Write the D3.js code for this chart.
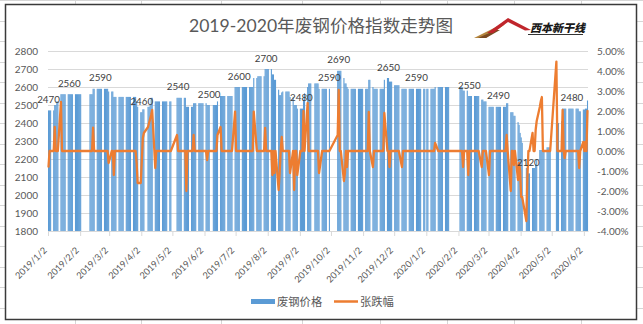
<!DOCTYPE html>
<html><head><meta charset="utf-8">
<script src="https://cdn.jsdelivr.net/npm/d3@7"></script>
<style>
body{margin:0;background:#fff}
svg{display:block}
</style>
</head><body>
<svg id="c" width="643" height="324"></svg>
<script>
const _ = null;
const title = "2019-2020年废钢价格指数走势图";
const seriesNames = ["废钢价格", "张跌幅"];
const startMonday = "2018/12/31";
const tickLabels = ["2019/1/2","2019/2/2","2019/3/2","2019/4/2","2019/5/2","2019/6/2","2019/7/2","2019/8/2","2019/9/2","2019/10/2","2019/11/2","2019/12/2","2020/1/2","2020/2/2","2020/3/2","2020/4/2","2020/5/2","2020/6/2"];
const leftTicks = [1800,1900,2000,2100,2200,2300,2400,2500,2600,2700,2800];
const rightTicks = [-4,-3,-2,-1,0,1,2,3,4,5];

// price index, one row per week (Mon..Fri), null = no quote
const priceWeeks = [
 [_,_,2470,2470,2470],
 [2470,2500,2500,2520,2520],
 [2560,2560,2560,2560,2560],
 [2560,2560,2560,2560,2560],
 [2560,2560,2560,2560,2560],
 [_,_,_,_,_],
 [2560,2560,2560,2590,2590],
 [2590,2590,2590,2590,2590],
 [2590,2590,2590,2590,2575],
 [2575,2575,2545,2545,2545],
 [2545,2545,2545,2545,2545],
 [2545,2545,2545,2545,2545],
 [2545,2545,2545,2520,2490],
 [2460,2460,2476,2476,_],
 [2490,2490,2500,2540,2540],
 [2520,2520,2520,2520,2520],
 [2520,2520,2520,2520,2520],
 [2520,2520,_,_,_],
 [2540,2540,2540,2540,2540],
 [2540,2540,2490,2490,2490],
 [2490,2490,2510,2510,2510],
 [2510,2510,2510,2510,2510],
 [2510,2500,2500,2500,_],
 [2500,2500,2500,2500,2520],
 [2550,2550,2550,2550,2550],
 [2550,2550,2550,2550,2550],
 [2600,2600,2600,2600,2600],
 [2600,2600,2600,2600,2600],
 [2600,2600,2600,2600,2650],
 [2650,2660,2660,2660,2660],
 [2660,2700,2700,2700,2700],
 [2700,2670,2670,2640,2640],
 [2585,2555,2555,2570,2575],
 [2575,2575,2575,2575,2545],
 [2545,2500,2500,2500,2480],
 [2480,2480,2480,2530,2565],
 [2600,2620,2620,2620,_],
 [2620,2620,2620,2620,2590],
 [2590,2590,2590,2590,2590],
 [2590,_,_,_,_],
 [_,2690,2690,2690,2690],
 [2650,2620,2620,2600,2590],
 [2590,2590,2590,2590,2590],
 [2590,2590,2590,2590,2590],
 [2590,2590,2590,2640,2640],
 [2600,2590,2590,2590,2590],
 [2590,2590,2590,2590,2640],
 [2650,2650,2630,2630,2630],
 [2610,2610,2610,2610,2610],
 [2590,2590,2590,2590,2590],
 [2590,2590,2590,2590,2590],
 [2590,2590,2590,2590,2590],
 [2590,2590,_,2590,2590],
 [2590,2590,2590,2590,2600],
 [2600,2600,2600,2600,2600],
 [2600,2600,2600,2600,_],
 [_,_,_,_,_],
 [2600,2600,2600,2580,2580],
 [2580,2550,2550,2550,2550],
 [2550,2550,2550,2550,2550],
 [2530,2530,2520,2520,2520],
 [2490,2490,2490,2490,2490],
 [2490,2490,2490,2490,2490],
 [2490,2490,2490,2510,2510],
 [2460,2460,2460,2440,2440],
 [2405,2390,2345,2320,2290],
 [_,2150,2120,2120,2120],
 [2150,2150,2150,2170,2200],
 [2250,2250,2250,2250,2250],
 [2265,2265,2265,2265,_],
 [_,_,2400,2400,2400],
 [2410,2480,2480,2480,2480],
 [2480,2480,2480,2480,2480],
 [2480,2480,2480,2465,2465],
 [2475,2475,2480,2480,2525]
];

// daily change in %, same layout
const changeWeeks = [
 [_,_,-0.78,0,0],
 [0,1.2,0,0,0],
 [2.45,0,0,0,0],
 [0,0,0,0,0],
 [0,0,0,0,0],
 [_,_,_,_,_],
 [0,0,0,1.17,0],
 [0,0,0,0,0],
 [0,0,0,0,-0.6],
 [0,0,-1.2,0,0],
 [0,0,0,0,0],
 [0,0,0,0,0],
 [0,0,0,-0.6,-1.6],
 [-1.6,-0.5,0.65,0.9,_],
 [1.2,1.4,1.6,1.8,2.05],
 [-0.85,0,0,0,0],
 [0,0,0,0,0],
 [0,0,_,_,_],
 [0.8,0,0,0,0],
 [0,0,-2.0,0,0],
 [0,0,0.8,0,0],
 [0,0,0,0,0],
 [0,-0.45,0,0,_],
 [0,0,0,0,0.8],
 [1.2,0,0,0,0],
 [0,0,0,0,0],
 [1.97,0,0,0,0],
 [0,0,0,0,0],
 [0,0,0,0,1.97],
 [0,0,0,0,0],
 [0,1.15,0,0,0],
 [0,-1.2,0,-1.1,0],
 [-1.95,-1.1,0,0.7,0],
 [0,0,0,0,-1.1],
 [0,-1.95,0,0,-1.2],
 [0,0,0,2.0,0],
 [2.4,0,0,0,_],
 [0,0,0,0,-1.1],
 [0,0,0,0,0],
 [0,_,_,_,_],
 [_,0.8,3.05,0,0],
 [-1.5,-1.1,0,-0.8,0],
 [0,0,0,0,0],
 [0,0,0,0,0],
 [0,0,0,1.95,0],
 [-0.8,0,0,0,0],
 [0,0,0,0,1.9],
 [0,0,-0.8,0,0],
 [0,0,0,0,0],
 [-0.8,0,0,0,0],
 [0,0,0,0,0],
 [0,0,0,0,0],
 [0,0,_,0,0],
 [0,0,0,0,0.4],
 [0,0,0,0,0],
 [0,0,0,0,_],
 [_,_,_,_,_],
 [0,0,0,-0.8,0],
 [0,-1.2,0,0,0],
 [0,0,0,0,0],
 [-0.8,0,0,0,0],
 [-1.2,0,0,0,0],
 [0,0,0,0,0],
 [0,0,0,0.8,0],
 [-2.0,0,0,-0.7,0],
 [-1.45,-0.6,-1.0,-2.3,-2.3],
 [_,-3.5,-1.4,0,0],
 [0.9,0,0,1.05,1.5],
 [2.2,2.5,2.7,0,0],
 [0,0,0,0,_],
 [_,_,4.47,0,0],
 [0,2.05,0,-0.35,0],
 [0,0,0,0,0],
 [0,0,0,-0.85,0],
 [0.45,0,0.45,0,2.0]
];

// weekend make-up trading day
const extraDates = ["2019/2/2"];
const extraPrices = [2560];
const extraChanges = [0];

// points carrying a value label
const labelDates = ["2019/1/2","2019/1/22","2019/2/21","2019/4/2","2019/5/7","2019/6/6","2019/7/5","2019/7/31","2019/9/3","2019/9/30","2019/10/9","2019/11/26","2019/12/23","2020/2/12","2020/3/11","2020/4/9","2020/5/21"];

function pd(s){const [y,m,d]=s.split("/").map(Number);return new Date(y,m-1,d);}
function fmt(d){return d.getFullYear()+"/"+(d.getMonth()+1)+"/"+d.getDate();}

const m0 = pd(startMonday);
const days = [];
priceWeeks.forEach((row,i)=>row.forEach((p,j)=>{
  if(p==null) return;
  days.push({date:new Date(m0.getFullYear(),m0.getMonth(),m0.getDate()+7*i+j),price:p,chg:changeWeeks[i][j]});
}));
extraDates.forEach((s,i)=>days.push({date:pd(s),price:extraPrices[i],chg:extraChanges[i]}));
days.sort((a,b)=>a.date-b.date);

const FONT = "Lato, 'Noto Sans CJK SC', sans-serif";
const CJK = "'Noto Sans CJK SC', Lato, sans-serif";
const svg = d3.select("#c");

// spreadsheet cells behind the chart
const bg = svg.append("g").attr("stroke","#D6D6D6").attr("stroke-width",1);
[75,141,221,302,380,447,514,581].forEach(v=>bg.append("line").attr("x1",v+0.5).attr("x2",v+0.5).attr("y1",0).attr("y2",324));
d3.range(0,324,20.5).forEach(v=>bg.append("line").attr("x1",0).attr("x2",643).attr("y1",Math.round(v)+0.5).attr("y2",Math.round(v)+0.5));

// chart frame
svg.append("rect").attr("x",5.5).attr("y",4.5).attr("width",631).attr("height",315)
  .attr("fill","#fff").attr("stroke","#3a3a3a").attr("stroke-width",1.5);

const x = d3.scaleTime().domain([pd("2019/1/2"), pd("2020/6/6")]).range([48,588]);
const k = x(pd("2019/1/3")) - x(pd("2019/1/2"));
const yL = d3.scaleLinear().domain([1800,2800]).range([231,51]);
const yR = d3.scaleLinear().domain([-4,5]).range([231,51]);

// gridlines
svg.append("g").selectAll("line").data(leftTicks).join("line")
  .attr("x1",48).attr("x2",588)
  .attr("y1",d=>Math.round(yL(d))+0.5).attr("y2",d=>Math.round(yL(d))+0.5)
  .attr("stroke","#D9D9D9").attr("stroke-width",1);

// bars
svg.append("g").selectAll("rect").data(days).join("rect")
  .attr("x",d=>x(d.date))
  .attr("width",k+0.05)
  .attr("y",d=>yL(d.price))
  .attr("height",d=>yL(1800)-yL(d.price))
  .attr("fill","#5B9BD5");

// bottom axis
const tickDates = tickLabels.map(pd);
const gx = svg.append("g").attr("transform","translate(0,231)")
  .call(d3.axisBottom(x).tickValues(tickDates).tickSize(5).tickSizeOuter(0).tickFormat(fmt));
gx.select(".domain").attr("stroke","#D9D9D9");
gx.selectAll(".tick line").attr("stroke","#D9D9D9");
gx.selectAll(".tick text").attr("x",null).attr("y",0).attr("dy",0)
  .attr("transform","translate(-1,20) rotate(-45)")
  .attr("text-anchor","end").attr("fill","#595959")
  .attr("font-family",FONT).attr("font-size",9.2);

// change line
const line = d3.line().x(d=>x(d.date)+k/2).y(d=>yR(d.chg));
svg.append("path").datum(days.filter(d=>d.chg!=null)).attr("d",line)
  .attr("fill","none").attr("stroke","#ED7D31").attr("stroke-width",2.3)
  .attr("stroke-linejoin","round").attr("stroke-linecap","round");

// left axis
const gl = svg.append("g").attr("transform","translate(48,0)")
  .call(d3.axisLeft(yL).tickValues(leftTicks).tickSize(0).tickPadding(10).tickFormat(d3.format("d")));
gl.select(".domain").remove();
gl.selectAll("text").attr("fill","#595959").attr("font-family",FONT).attr("font-size",10);

// right axis
const gr = svg.append("g").attr("transform","translate(588,0)")
  .call(d3.axisRight(yR).tickValues(rightTicks).tickSize(0).tickPadding(9).tickFormat(d=>d.toFixed(2)+"%"));
gr.select(".domain").remove();
gr.selectAll("text").attr("fill","#595959").attr("font-family",FONT).attr("font-size",10);

// data labels
const byDate = new Map(days.map(d=>[fmt(d.date),d]));
svg.append("g").selectAll("text").data(labelDates.map(s=>byDate.get(s))).join("text")
  .attr("x",d=>x(d.date)+k/2).attr("y",d=>yL(d.price)-7.5)
  .attr("text-anchor","middle").attr("fill","#404040")
  .attr("font-family",FONT).attr("font-size",9.8)
  .text(d=>d.price);

// title
svg.append("text").attr("x",321).attr("y",31.5).attr("text-anchor","middle")
  .attr("fill","#595959").attr("font-family",FONT).attr("font-size",17.6)
  .text(title);

// logo
const logo = svg.append("g");
logo.append("path").attr("d","M474,38 L500,25 L508,19 L504,25 L486,38 Z").attr("fill","#B5863E");
logo.append("path").attr("d","M478,38 L496,30 L500,30 L486,38 Z").attr("fill","#7A4A22");
logo.append("path").attr("d","M487,33 L508,18 L531,30 L525,30.5 L508,22 L493,33 Z").attr("fill","#C0262C");
logo.append("text").attr("x",530).attr("y",32).attr("font-family",CJK).attr("font-weight",900)
  .attr("font-style","italic").attr("font-size",11).attr("fill","#1a1a1a").text("西本新干线");
logo.append("line").attr("x1",528).attr("x2",583).attr("y1",34.5).attr("y2",34.5).attr("stroke","#333").attr("stroke-width",1);

// legend
const lg = svg.append("g");
lg.append("rect").attr("x",251).attr("y",299).attr("width",24).attr("height",5).attr("fill","#5B9BD5");
lg.append("text").attr("x",277).attr("y",306).attr("font-family",CJK).attr("font-size",11.3).attr("fill","#595959").text(seriesNames[0]);
lg.append("line").attr("x1",334).attr("x2",358).attr("y1",301.5).attr("y2",301.5).attr("stroke","#ED7D31").attr("stroke-width",2.5);
lg.append("text").attr("x",360).attr("y",306).attr("font-family",CJK).attr("font-size",11.3).attr("fill","#595959").text(seriesNames[1]);
</script>
</body></html>
